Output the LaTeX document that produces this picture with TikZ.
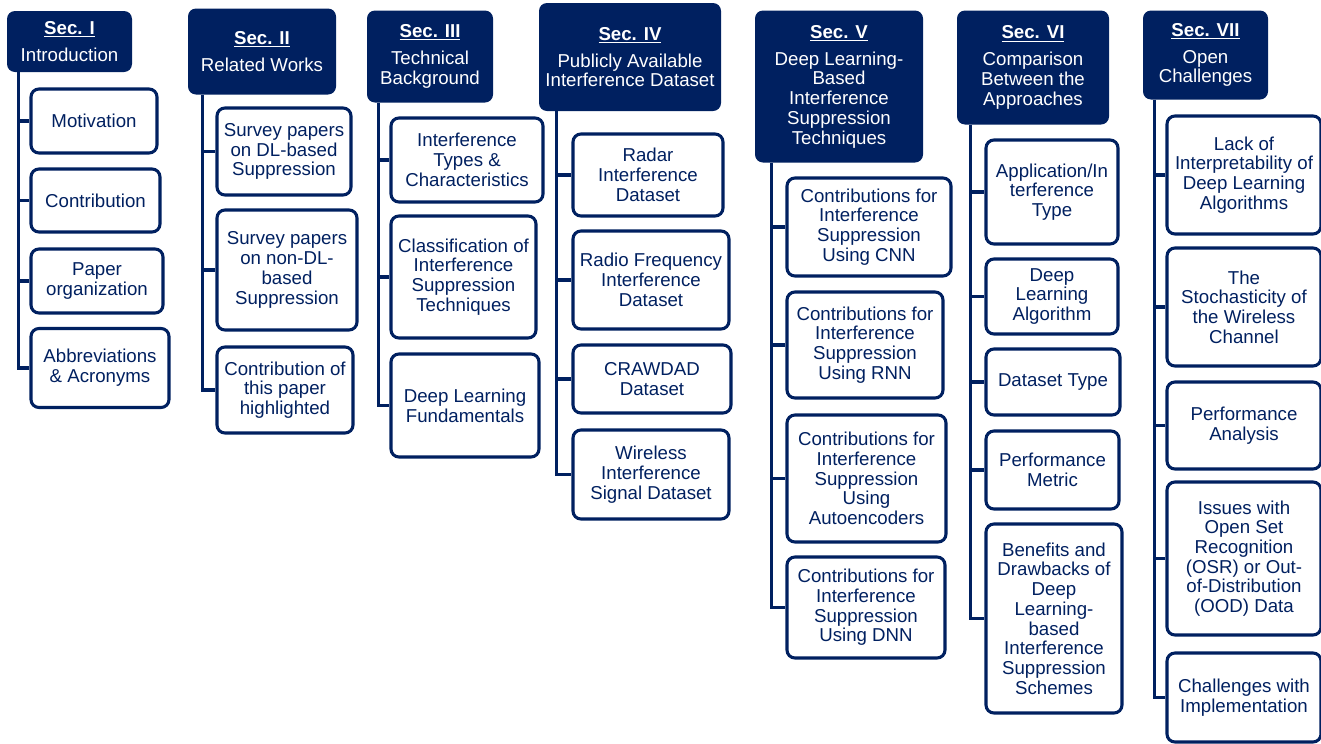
\documentclass[tikz,border=0pt]{standalone}
\usepackage{fontspec}
\setmainfont{Liberation Sans}
\definecolor{navy}{HTML}{002060}
\tikzset{
  sec/.style={fill=navy, text=white, rounded corners=6pt, align=center, inner sep=0pt},
  item/.style={draw=navy, fill=white, text=navy, line width=2.3pt, rounded corners=6pt, align=center, inner sep=0pt},
  wh/.style 2 args={minimum width=#1*0.75pt, minimum height=#2*0.75pt},
  branch/.style={draw=navy, line width=2.6pt}
}
\newcommand{\sechead}[2]{\textbf{\underline{Sec. #1}}\\[5.5pt]#2}
\begin{document}
\begin{tikzpicture}[x=0.75pt, y=-0.75pt, font=\fontsize{14}{14.8}\selectfont]
  \useasboundingbox (0,0) rectangle (1321,743);

  % section heads
  \node[sec, wh={125}{61}]  (s1) at (69.5,41.5) {\sechead{I}{Introduction}};
  \node[sec, wh={148}{86}]  (s2) at (262,51.5)  {\sechead{II}{Related Works}};
  \node[sec, wh={126}{92}]  (s3) at (430,56.5)  {\sechead{III}{Technical\\Background}};
  \node[sec, wh={182}{108}] (s4) at (630,57)    {\sechead{IV}{Publicly Available\\Interference Dataset}};
  \node[sec, wh={168}{152}] (s5) at (839,86.5)  {\sechead{V}{Deep Learning-\\Based\\Interference\\Suppression\\Techniques}};
  \node[sec, wh={152}{114}] (s6) at (1033,67.5) {\sechead{VI}{Comparison\\Between the\\Approaches}};
  \node[sec, wh={125}{89}]  (s7) at (1205.5,55) {\sechead{VII}{Open\\Challenges}};

  % Sec. I
  \node[item, wh={126}{64}] (i1a) at (94,121)   {Motivation};
  \node[item, wh={129}{63}] (i1b) at (95.5,200.5) {Contribution};
  \node[item, wh={132}{64}] (i1c) at (97,281)   {Paper\\organization};
  \node[item, wh={138}{79}] (i1d) at (100,368)  {Abbreviations\\\& Acronyms};

  % Sec. II
  \node[item, wh={134}{87}]  (i2a) at (284,151.5) {Survey papers\\on DL-based\\Suppression};
  \node[item, wh={140}{120}] (i2b) at (287,270)   {Survey papers\\on non-DL-\\based\\Suppression};
  \node[item, wh={136}{86}]  (i2c) at (285,390)   {Contribution of\\this paper\\highlighted};

  % Sec. III
  \node[item, wh={152}{84}]  (i3a) at (467,160)   {Interference\\Types \&\\Characteristics};
  \node[item, wh={145}{122}] (i3b) at (463.5,277) {Classification of\\Interference\\Suppression\\Techniques};
  \node[item, wh={148}{103}] (i3c) at (465,405.5) {Deep Learning\\Fundamentals};

  % Sec. IV
  \node[item, wh={150}{82}] (i4a) at (648,175)   {Radar\\Interference\\Dataset};
  \node[item, wh={156}{98}] (i4b) at (651,280)   {Radio Frequency\\Interference\\Dataset};
  \node[item, wh={158}{68}] (i4c) at (652,379)   {CRAWDAD\\Dataset};
  \node[item, wh={156}{89}] (i4d) at (651,474.5) {Wireless\\Interference\\Signal Dataset};

  % Sec. V
  \node[item, wh={164}{98}]  (i5a) at (869,227)   {Contributions for\\Interference\\Suppression\\Using CNN};
  \node[item, wh={156}{106}] (i5b) at (865,345)   {Contributions for\\Interference\\Suppression\\Using RNN};
  \node[item, wh={159}{127}] (i5c) at (866.5,478.5) {Contributions for\\Interference\\Suppression\\Using\\Autoencoders};
  \node[item, wh={158}{101}] (i5d) at (866,607.5) {Contributions for\\Interference\\Suppression\\Using DNN};

  % Sec. VI
  \node[item, wh={132}{104}] (i6a) at (1052,192)    {Application/In\\terference\\Type};
  \node[item, wh={132}{75}]  (i6b) at (1052,296.5)  {Deep\\Learning\\Algorithm};
  \node[item, wh={134}{66}]  (i6c) at (1053,382)    {Dataset Type};
  \node[item, wh={133}{78}]  (i6d) at (1052.5,470)  {Performance\\Metric};
  \node[item, wh={136}{189}] (i6e) at (1054,618.5)  {Benefits and\\Drawbacks of\\Deep\\Learning-\\based\\Interference\\Suppression\\Schemes};

  % Sec. VII
  \node[item, wh={154}{118}] (i7a) at (1244,175)   {Lack of\\Interpretability of\\Deep Learning\\Algorithms};
  \node[item, wh={154}{118}] (i7b) at (1244,307)   {The\\Stochasticity of\\the Wireless\\Channel};
  \node[item, wh={154}{87}]  (i7c) at (1244,425.5) {Performance\\Analysis};
  \node[item, wh={154}{153}] (i7d) at (1244,558.5) {Issues with\\Open Set\\Recognition\\(OSR) or Out-\\of-Distribution\\(OOD) Data};
  \node[item, wh={154}{89}]  (i7e) at (1244,697.5) {Challenges with\\Implementation};

  % trunks and branches
  \coordinate (t1) at ([shift={(12,0)}]s1.south west);
  \coordinate (t2) at ([shift={(15,0)}]s2.south west);
  \coordinate (t3) at ([shift={(12,0)}]s3.south west);
  \coordinate (t4) at ([shift={(18,0)}]s4.south west);
  \coordinate (t5) at ([shift={(17,0)}]s5.south west);
  \coordinate (t6) at ([shift={(14,0)}]s6.south west);
  \coordinate (t7) at ([shift={(12,0)}]s7.south west);
  \foreach \c in {a,b,c,d} \draw[branch] (t1) |- (i1\c.west);
  \foreach \c in {a,b,c}   \draw[branch] (t2) |- (i2\c.west);
  \foreach \c in {a,b,c}   \draw[branch] (t3) |- (i3\c.west);
  \foreach \c in {a,b,c,d} \draw[branch] (t4) |- (i4\c.west);
  \foreach \c in {a,b,c,d} \draw[branch] (t5) |- (i5\c.west);
  \foreach \c in {a,b,c,d,e} \draw[branch] (t6) |- (i6\c.west);
  \foreach \c in {a,b,c,d,e} \draw[branch] (t7) |- (i7\c.west);
\end{tikzpicture}
\end{document}
